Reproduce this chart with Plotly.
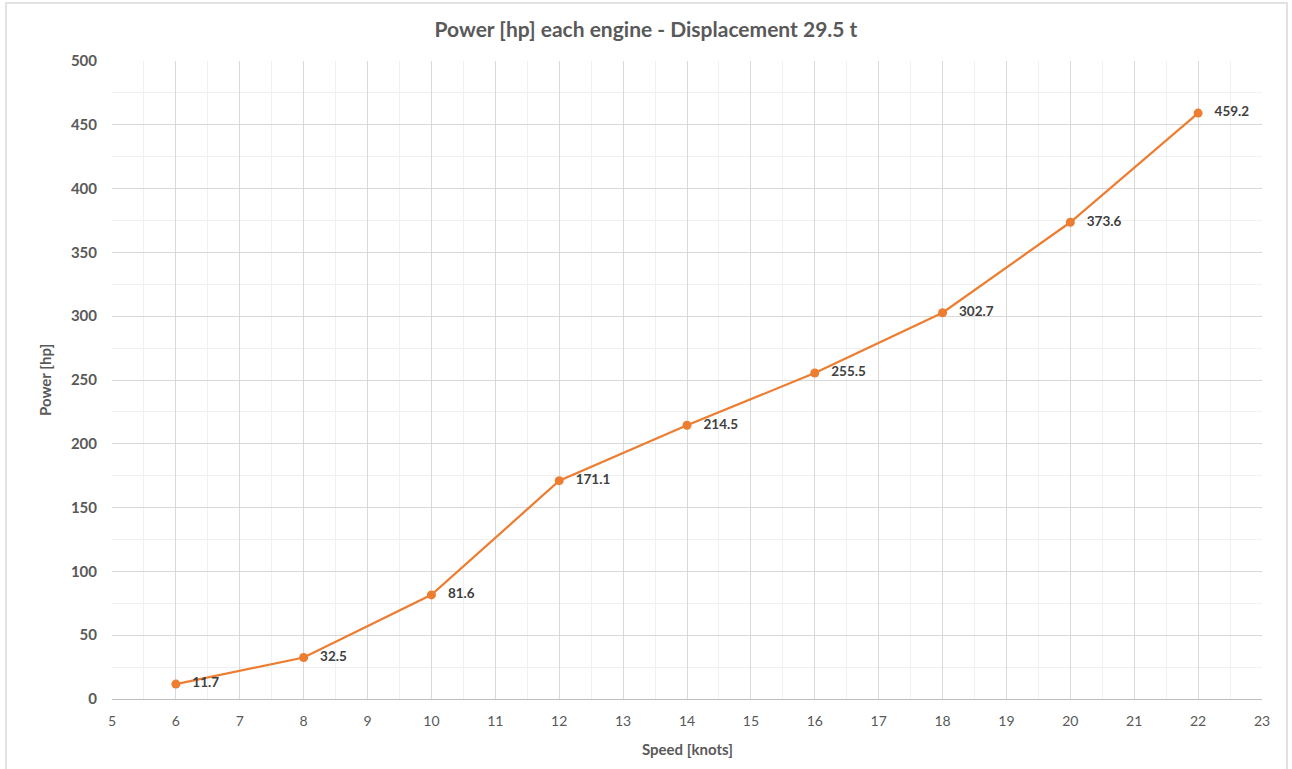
import plotly.graph_objects as go

speed = [6, 8, 10, 12, 14, 16, 18, 20, 22]
power = [11.7, 32.5, 81.6, 171.1, 214.5, 255.5, 302.7, 373.6, 459.2]
labels = [f"{v:.1f}" for v in power]

title_text = "Power [hp] each engine - Displacement 29.5 t"
x_title = "Speed [knots]"
y_title = "Power [hp]"

FONT = "Lato"
W, H = 1292, 769
L, R, T, B = 112, 30, 61, 70
pw, ph = W - L - R, H - T - B

fig = go.Figure()
fig.add_trace(go.Scatter(
    x=speed, y=power, mode="lines+markers+text",
    line=dict(color="#ED7D31", width=2.25),
    marker=dict(color="#ED7D31", size=9),
    text=labels, texttemplate="   %{text}", textposition="middle right",
    textfont=dict(family=FONT, size=13.5, color="#404040", weight="bold"),
    cliponaxis=False, hoverinfo="x+y", showlegend=False,
))

fig.update_layout(
    width=W, height=H,
    margin=dict(l=L, r=R, t=T, b=B),
    paper_bgcolor="white", plot_bgcolor="white",
    font=dict(family=FONT, color="#595959"),
    title=dict(text=title_text, x=0.5, xref="container", xanchor="center",
               y=1 - 30 / H, yref="container", yanchor="middle",
               font=dict(family=FONT, size=21, color="#595959", weight="bold")),
    xaxis=dict(range=[5, 23], dtick=1, tick0=5, showgrid=True, gridcolor="#D9D9D9", gridwidth=1,
               minor=dict(dtick=0.5, showgrid=True, gridcolor="#F0F0F0", gridwidth=1),
               showline=True, linecolor="#BFBFBF", linewidth=1, mirror=False,
               zeroline=False, ticks="", ticklabelstandoff=9,
               tickfont=dict(family=FONT, size=14, color="#595959")),
    yaxis=dict(range=[0, 500], dtick=50, tick0=0, showgrid=True, gridcolor="#D9D9D9", gridwidth=1,
               minor=dict(dtick=25, showgrid=True, gridcolor="#F0F0F0", gridwidth=1),
               showline=False, zeroline=False, ticks="", ticklabelstandoff=14,
               tickfont=dict(family=FONT, size=15, color="#595959", weight="bold")),
    annotations=[
        dict(text=x_title, xref="paper", yref="paper", x=0.5, y=0, xanchor="center", yanchor="middle",
             yshift=-50, showarrow=False,
             font=dict(family=FONT, size=15, color="#595959", weight="bold")),
        dict(text=y_title, xref="paper", yref="paper", x=0, y=0.5, xanchor="center", yanchor="middle",
             xshift=-67, textangle=-90, showarrow=False,
             font=dict(family=FONT, size=15, color="#595959", weight="bold")),
    ],
    shapes=[dict(type="rect", xref="paper", yref="paper",
                 x0=(6 - L) / pw, x1=(1287 - L) / pw,
                 y0=(H - B - 780) / ph, y1=(H - B - 3) / ph,
                 line=dict(color="#D9D9D9", width=1.5), fillcolor="rgba(0,0,0,0)", layer="below")],
)

fig.write_html("out.html", config={"displayModeBar": False},
               post_script="document.body.style.margin='0px';")
